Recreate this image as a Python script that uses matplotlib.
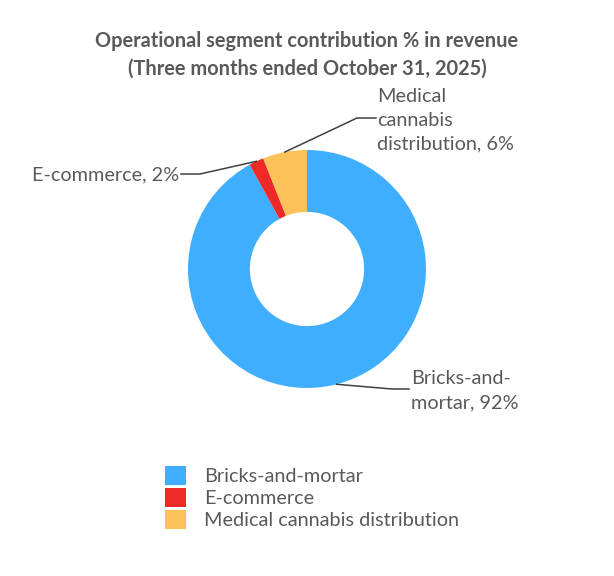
import matplotlib
matplotlib.use("Agg")
import matplotlib.pyplot as plt
from matplotlib.patches import Patch
import numpy as np

plt.rcParams['font.family'] = ['Lato', 'DejaVu Sans']

segments = ["Bricks-and-mortar", "E-commerce", "Medical cannabis distribution"]
label_texts = ["Bricks-and-\nmortar, 92%", "E-commerce, 2%", "Medical\ncannabis\ndistribution, 6%"]
shares = [92, 2, 6]
colors = ["#40AEFE", "#EE2A29", "#FBC25A"]

TXT = "#595959"
LINE = "#404040"
FS = 14.3

W, H = 614, 576
fig = plt.figure(figsize=(W / 100, H / 100), dpi=100)

# donut centre (307, 269) px, outer radius 119 px
cx, cy, r = 307, 269, 119
ax = fig.add_axes([(cx - r) / W, (H - cy - r) / H, 2 * r / W, 2 * r / H])
wedges, _ = ax.pie(shares, colors=colors, startangle=90, counterclock=False,
                   radius=1, wedgeprops=dict(width=0.52, linewidth=0))
ax.set_xlim(-1, 1)
ax.set_ylim(-1, 1)
ax.set_aspect('equal')


def px(x, y):
    return ((x - cx) / r, (cy - y) / r)


# label layout: (elbow px, end px, text px, ha)
layout = [
    ((392, 389), (409, 389), (411, 391), 'left'),
    ((200, 174), (181, 174), (179, 175), 'right'),
    ((357, 118), (376, 118), (377, 120), 'left'),
]

for w, txt, (elb, end, tpos, ha) in zip(wedges, label_texts, layout):
    ang = np.deg2rad((w.theta1 + w.theta2) / 2)
    start = (np.cos(ang), np.sin(ang))
    e1 = px(*elb)
    e2 = px(*end)
    ax.plot([start[0], e1[0], e2[0]], [start[1], e1[1], e2[1]],
            color=LINE, lw=1.1, clip_on=False)
    t = px(*tpos)
    ax.text(t[0], t[1], txt, ha=ha, va='center', fontsize=FS, color=TXT,
            linespacing=1.5)

fig.text(0.5, 1 - 55 / H, "Operational segment contribution % in revenue\n(Three months ended October 31, 2025)",
         ha='center', va='center', fontsize=14.4, fontweight='bold', color=TXT, linespacing=1.45)

handles = [Patch(facecolor=c, edgecolor='none') for c in colors]
leg = fig.legend(handles, segments, loc='upper left', bbox_to_anchor=(165 / W, 1 - 466 / H),
                 frameon=False, fontsize=FS, handlelength=1.06, handleheight=1.06,
                 labelspacing=0.16, handletextpad=0.9, borderpad=0, borderaxespad=0)
for t in leg.get_texts():
    t.set_color(TXT)

fig.savefig("out.png", dpi=100)
